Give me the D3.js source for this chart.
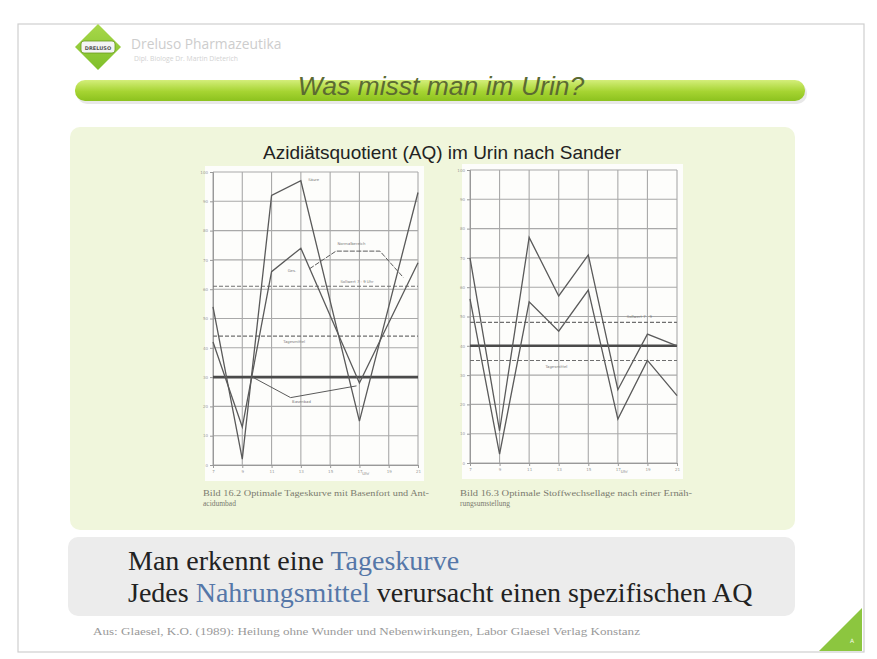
<!DOCTYPE html>
<html>
<head>
<meta charset="utf-8">
<script src="https://cdn.jsdelivr.net/npm/d3@7/dist/d3.min.js"></script>
<style>
  html, body { margin: 0; padding: 0; background: #fff; }
  svg { display: block; }
</style>
</head>
<body>
<svg id="slide" width="877" height="659"></svg>
<script>
// --- data (values in grid units, y 0..100, x index 0..7) ---
const xTickLabels = ['7', '9', '11', '13', '15', '17', '19', '21'];
const yTickValues = [0, 10, 20, 30, 40, 50, 60, 70, 80, 90, 100];

// left chart: Bild 16.2
const leftX = [0, 1, 2, 3, 5, 7];
const leftUpper = [54, 2, 92, 97, 15, 93];
const leftLower = [42, 13, 66, 74, 28, 69];
const leftBaseX = [1.35, 2.65, 4.9];
const leftBase = [30, 23, 27];
const leftNormX = [3.3, 4.2, 5.7, 6.5];
const leftNorm = [67, 73, 73, 64];
const leftDashed = [61, 44];
const leftThick = [30];

// right chart: Bild 16.3
const rightX = [0, 1, 2, 3, 4, 5, 6, 7];
const rightUpper = [70, 11, 77, 57, 71, 25, 44, 40];
const rightLower = [56, 3, 55, 45, 59, 15, 35, 23];
const rightDashed = [48, 35];
const rightThick = [40];

const svg = d3.select('#slide');
const defs = svg.append('defs');

// page card
svg.append('rect').attr('x', 18).attr('y', 24).attr('width', 846).attr('height', 628)
  .attr('fill', '#fff').attr('stroke', '#cfcfcf').attr('stroke-width', 1.2);

// logo
const logoGrad = defs.append('linearGradient').attr('id', 'logoGrad')
  .attr('x1', 0).attr('y1', 0).attr('x2', 0).attr('y2', 1);
logoGrad.append('stop').attr('offset', '0%').attr('stop-color', '#a8d84a');
logoGrad.append('stop').attr('offset', '100%').attr('stop-color', '#7fbf2a');
svg.append('path').attr('d', 'M98,24 L121,47 L98,70 L75,47 Z').attr('fill', 'url(#logoGrad)');
svg.append('rect').attr('x', 81).attr('y', 41).attr('width', 34).attr('height', 12).attr('rx', 3)
  .attr('fill', '#f4f4f4').attr('stroke', '#6a9a20').attr('stroke-width', 0.8);
svg.append('text').attr('x', 98).attr('y', 49.5).attr('text-anchor', 'middle')
  .attr('font-family', 'DejaVu Sans').attr('font-size', 5).attr('font-weight', 'bold')
  .attr('fill', '#555').text('DRELUSO');
svg.append('text').attr('x', 131).attr('y', 49).attr('font-family', 'Open Sans, sans-serif')
  .attr('font-size', 13.8).attr('fill', '#cdcdcd').text('Dreluso Pharmazeutika');
svg.append('text').attr('x', 134).attr('y', 61).attr('font-family', 'Open Sans, sans-serif')
  .attr('font-size', 6.8).attr('fill', '#d2d2d2').text('Dipl. Biologe Dr. Martin Dieterich');

// green title bar
const barGrad = defs.append('linearGradient').attr('id', 'barGrad')
  .attr('x1', 0).attr('y1', 0).attr('x2', 0).attr('y2', 1);
barGrad.append('stop').attr('offset', '0%').attr('stop-color', '#d4ee7a');
barGrad.append('stop').attr('offset', '55%').attr('stop-color', '#a6d432');
barGrad.append('stop').attr('offset', '100%').attr('stop-color', '#8cc21e');
svg.append('rect').attr('x', 77).attr('y', 83).attr('width', 730).attr('height', 21).attr('rx', 10)
  .attr('fill', '#d9d9d9').attr('opacity', 0.6);
svg.append('rect').attr('x', 75).attr('y', 80).attr('width', 730).attr('height', 21).attr('rx', 10)
  .attr('fill', 'url(#barGrad)');
svg.append('text').attr('x', 441).attr('y', 95).attr('text-anchor', 'middle')
  .attr('font-family', 'Liberation Sans, Arial, sans-serif').attr('font-style', 'italic')
  .attr('font-size', 26.5).attr('fill', '#5b6a32').text('Was misst man im Urin?');

// light green panel
svg.append('rect').attr('x', 70).attr('y', 127).attr('width', 725).attr('height', 403).attr('rx', 10)
  .attr('fill', '#f0f6dc');
svg.append('text').attr('x', 442).attr('y', 159).attr('text-anchor', 'middle')
  .attr('font-family', 'Liberation Sans, Arial, sans-serif').attr('font-size', 19)
  .attr('fill', '#222').text('Azidiätsquotient (AQ) im Urin nach Sander');

function drawChart(o) {
  const x = d3.scaleLinear().domain([0, 7]).range([o.left, o.right]);
  const y = d3.scaleLinear().domain([0, 100]).range([o.bottom, o.top]);
  const g = svg.append('g');

  g.append('rect').attr('x', o.left - 8).attr('y', o.top - 6)
    .attr('width', o.right - o.left + 14).attr('height', o.bottom - o.top + 22)
    .attr('fill', '#fdfdfb');

  // grid
  g.append('g').selectAll('line').data(yTickValues).join('line')
    .attr('x1', x(0)).attr('x2', x(7)).attr('y1', d => y(d)).attr('y2', d => y(d))
    .attr('stroke', '#a9a9a9').attr('stroke-width', 1.1);
  g.append('g').selectAll('line').data(d3.range(8)).join('line')
    .attr('y1', y(0)).attr('y2', y(100)).attr('x1', d => x(d)).attr('x2', d => x(d))
    .attr('stroke', '#a9a9a9').attr('stroke-width', 1.1);

  // axes with tiny labels
  const yAxis = g.append('g').attr('transform', 'translate(' + x(0) + ',0)')
    .call(d3.axisLeft(y).tickValues(yTickValues).tickSize(3).tickPadding(2));
  const xAxis = g.append('g').attr('transform', 'translate(0,' + y(0) + ')')
    .call(d3.axisBottom(x).tickValues(d3.range(8)).tickSize(3).tickPadding(2)
      .tickFormat(i => xTickLabels[i]));
  [yAxis, xAxis].forEach(a => {
    a.select('.domain').attr('stroke', '#999');
    a.selectAll('line').attr('stroke', '#999');
    a.selectAll('text').attr('font-size', 4).attr('fill', '#999').attr('font-family', 'DejaVu Sans');
  });
  g.append('text').attr('x', x(o.uhrAt)).attr('y', y(0) + 10).attr('font-size', 4)
    .attr('fill', '#888').attr('font-family', 'DejaVu Sans').text('Uhr');

  // reference lines
  g.append('g').selectAll('line').data(o.dashed).join('line')
    .attr('x1', x(0)).attr('x2', x(7)).attr('y1', d => y(d)).attr('y2', d => y(d))
    .attr('stroke', '#6f6f6f').attr('stroke-width', 1.1).attr('stroke-dasharray', '4,2');
  g.append('g').selectAll('line').data(o.thick).join('line')
    .attr('x1', x(0)).attr('x2', x(7)).attr('y1', d => y(d)).attr('y2', d => y(d))
    .attr('stroke', '#4a4a4a').attr('stroke-width', 2.6);

  const line = d3.line().x(d => x(d[0])).y(d => y(d[1]));
  o.series.forEach(s => {
    g.append('path').datum(d3.zip(s.x, s.v)).attr('d', line)
      .attr('fill', 'none').attr('stroke', '#5a5a5a').attr('stroke-width', s.w || 1.3)
      .attr('stroke-dasharray', s.dash || null);
  });

  // tiny annotations
  o.notes.forEach(n => {
    g.append('text').attr('x', x(n[0])).attr('y', y(n[1])).attr('font-size', 3.8)
      .attr('fill', '#777').attr('font-family', 'DejaVu Sans').text(n[2]);
  });

  // caption
  o.caption.forEach((c, i) => {
    const t = svg.append('text').attr('x', o.left - 10).attr('y', 496 + i * 10)
      .attr('font-family', 'Liberation Serif, serif').attr('font-size', 7.5)
      .attr('fill', '#7a7a6e').text(c);
    if (i === 0) t.attr('textLength', o.capWidth).attr('lengthAdjust', 'spacingAndGlyphs');
  });
}

drawChart({
  left: 213, right: 418, top: 172, bottom: 465, uhrAt: 5.1, capWidth: 226,
  dashed: leftDashed, thick: leftThick,
  series: [
    { x: leftX, v: leftUpper },
    { x: leftX, v: leftLower },
    { x: leftBaseX, v: leftBase, w: 1 },
    { x: leftNormX, v: leftNorm, w: 1, dash: '5,1.5' }
  ],
  notes: [
    [3.25, 97, 'Säure'], [2.55, 66, 'Ges.'], [4.25, 75, 'Normalbereich'],
    [4.35, 62, 'Sollwert 7 - 9 Uhr'], [2.4, 41.5, 'Tagesmittel'], [2.7, 21, 'Basenbad']
  ],
  caption: ['Bild 16.2  Optimale Tageskurve mit Basenfort und Ant-', 'acidumbad']
});

drawChart({
  left: 470, right: 677, top: 170, bottom: 463, uhrAt: 5.1, capWidth: 232,
  dashed: rightDashed, thick: rightThick,
  series: [
    { x: rightX, v: rightUpper },
    { x: rightX, v: rightLower }
  ],
  notes: [[5.3, 49.5, 'Sollwert 7 - 9'], [2.55, 32.5, 'Tagesmittel']],
  caption: ['Bild 16.3  Optimale Stoffwechsellage nach einer Ernäh-', 'rungsumstellung']
});

// grey statement panel
svg.append('rect').attr('x', 68).attr('y', 537).attr('width', 727).attr('height', 79).attr('rx', 10)
  .attr('fill', '#ececec');
const l1 = svg.append('text').attr('x', 128).attr('y', 570)
  .attr('font-family', 'Liberation Serif, Times New Roman, serif').attr('font-size', 28).attr('fill', '#222');
l1.append('tspan').text('Man erkennt eine ');
l1.append('tspan').attr('fill', '#5577a8').text('Tageskurve');
const l2 = svg.append('text').attr('x', 128).attr('y', 602)
  .attr('font-family', 'Liberation Serif, Times New Roman, serif').attr('font-size', 28).attr('fill', '#222');
l2.append('tspan').text('Jedes ');
l2.append('tspan').attr('fill', '#5577a8').text('Nahrungsmittel');
l2.append('tspan').text(' verursacht einen spezifischen AQ');

svg.append('text').attr('x', 93).attr('y', 635)
  .attr('font-family', 'Liberation Serif, serif').attr('font-size', 10).attr('fill', '#9a9a9a')
  .attr('textLength', 547).attr('lengthAdjust', 'spacingAndGlyphs')
  .text('Aus: Glaesel, K.O. (1989): Heilung ohne Wunder und Nebenwirkungen, Labor Glaesel Verlag Konstanz');

// corner triangle
svg.append('path').attr('d', 'M819,651 L862,651 L862,608 Z').attr('fill', '#8cc63f');
svg.append('text').attr('x', 850).attr('y', 643).attr('font-size', 6).attr('fill', '#f4f9e8')
  .attr('font-family', 'DejaVu Sans').text('A');
</script>
</body>
</html>
